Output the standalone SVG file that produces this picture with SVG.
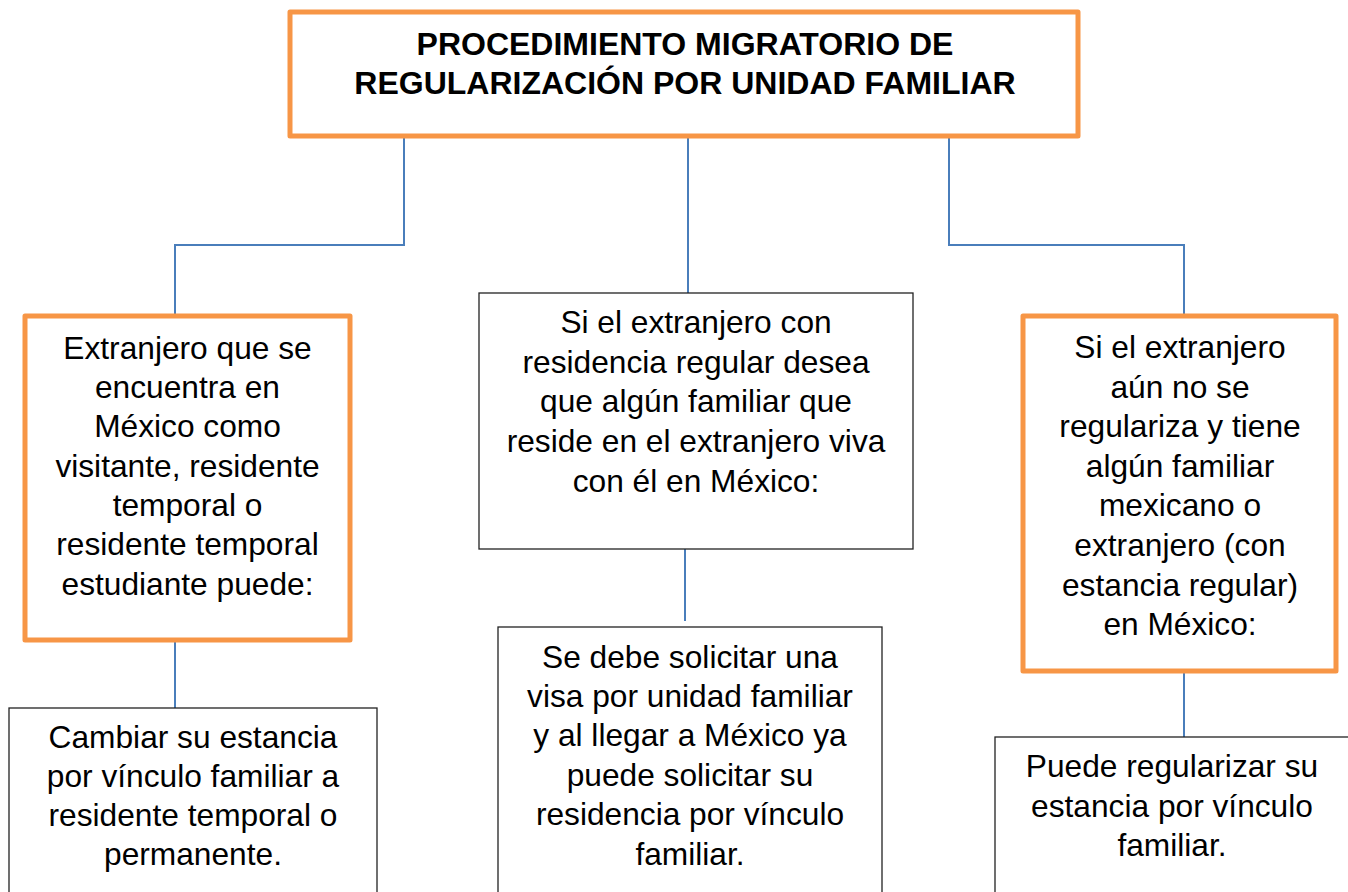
<svg xmlns="http://www.w3.org/2000/svg" width="1348" height="892" viewBox="0 0 1348 892">
<style>
.bg{fill:#ffffff}
.ob{fill:#ffffff;stroke:#F79646;stroke-width:5;stroke-linejoin:round}
.kb{fill:#ffffff;stroke:#222222;stroke-width:1.3}
.c{fill:none;stroke:#4A7EBB;stroke-width:2}
.t{font-family:"Liberation Sans",Arial,sans-serif;font-size:31.7px;fill:#000000;text-anchor:middle}
.h{font-family:"Liberation Sans",Arial,sans-serif;font-size:32px;font-weight:bold;fill:#000000;text-anchor:middle}
</style>
<rect class="bg" x="0" y="0" width="1348" height="892"/>
<g id="connectors">
<polyline class="c" points="404,138 404,245 175,245 175,316"/>
<line class="c" x1="688" y1="138" x2="688" y2="293"/>
<polyline class="c" points="949,138 949,245 1184,245 1184,316"/>
<line class="c" x1="175" y1="642" x2="175" y2="708"/>
<line class="c" x1="685" y1="549" x2="685" y2="621"/>
<line class="c" x1="1184" y1="673" x2="1184" y2="737"/>
</g>
<g id="title">
<rect class="ob" x="290" y="12" width="788" height="124"/>
<text class="h" x="685" y="55">PROCEDIMIENTO MIGRATORIO DE</text>
<text class="h" x="685" y="94">REGULARIZACIÓN POR UNIDAD FAMILIAR</text>
</g>
<g id="left">
<rect class="ob" x="25" y="316" width="325" height="324"/>
<text class="t" x="187.5" y="359">Extranjero que se</text>
<text class="t" x="187.5" y="398">encuentra en</text>
<text class="t" x="187.5" y="437">México como</text>
<text class="t" x="187.5" y="477">visitante, residente</text>
<text class="t" x="187.5" y="516">temporal o</text>
<text class="t" x="187.5" y="555">residente temporal</text>
<text class="t" x="187.5" y="595">estudiante puede:</text>
</g>
<g id="middle">
<rect class="kb" x="479" y="293" width="434" height="256"/>
<text class="t" x="696" y="333">Si el extranjero con</text>
<text class="t" x="696" y="373">residencia regular desea</text>
<text class="t" x="696" y="412">que algún familiar que</text>
<text class="t" x="696" y="452">reside en el extranjero viva</text>
<text class="t" x="696" y="492">con él en México:</text>
</g>
<g id="right">
<rect class="ob" x="1023" y="316" width="313" height="355"/>
<text class="t" x="1180" y="358">Si el extranjero</text>
<text class="t" x="1180" y="398">aún no se</text>
<text class="t" x="1180" y="437">regulariza y tiene</text>
<text class="t" x="1180" y="477">algún familiar</text>
<text class="t" x="1180" y="516">mexicano o</text>
<text class="t" x="1180" y="556">extranjero (con</text>
<text class="t" x="1180" y="596">estancia regular)</text>
<text class="t" x="1180" y="635">en México:</text>
</g>
<g id="left-result">
<rect class="kb" x="9" y="708" width="368" height="200"/>
<text class="t" x="193" y="748">Cambiar su estancia</text>
<text class="t" x="193" y="787">por vínculo familiar a</text>
<text class="t" x="193" y="826">residente temporal o</text>
<text class="t" x="193" y="865">permanente.</text>
</g>
<g id="middle-result">
<rect class="kb" x="498" y="627" width="384" height="280"/>
<text class="t" x="690" y="668">Se debe solicitar una</text>
<text class="t" x="690" y="707">visa por unidad familiar</text>
<text class="t" x="690" y="746">y al llegar a México ya</text>
<text class="t" x="690" y="786">puede solicitar su</text>
<text class="t" x="690" y="825">residencia por vínculo</text>
<text class="t" x="690" y="865">familiar.</text>
</g>
<g id="right-result">
<rect class="kb" x="995" y="737" width="354" height="170"/>
<text class="t" x="1172" y="777">Puede regularizar su</text>
<text class="t" x="1172" y="817">estancia por vínculo</text>
<text class="t" x="1172" y="856">familiar.</text>
</g>
</svg>
